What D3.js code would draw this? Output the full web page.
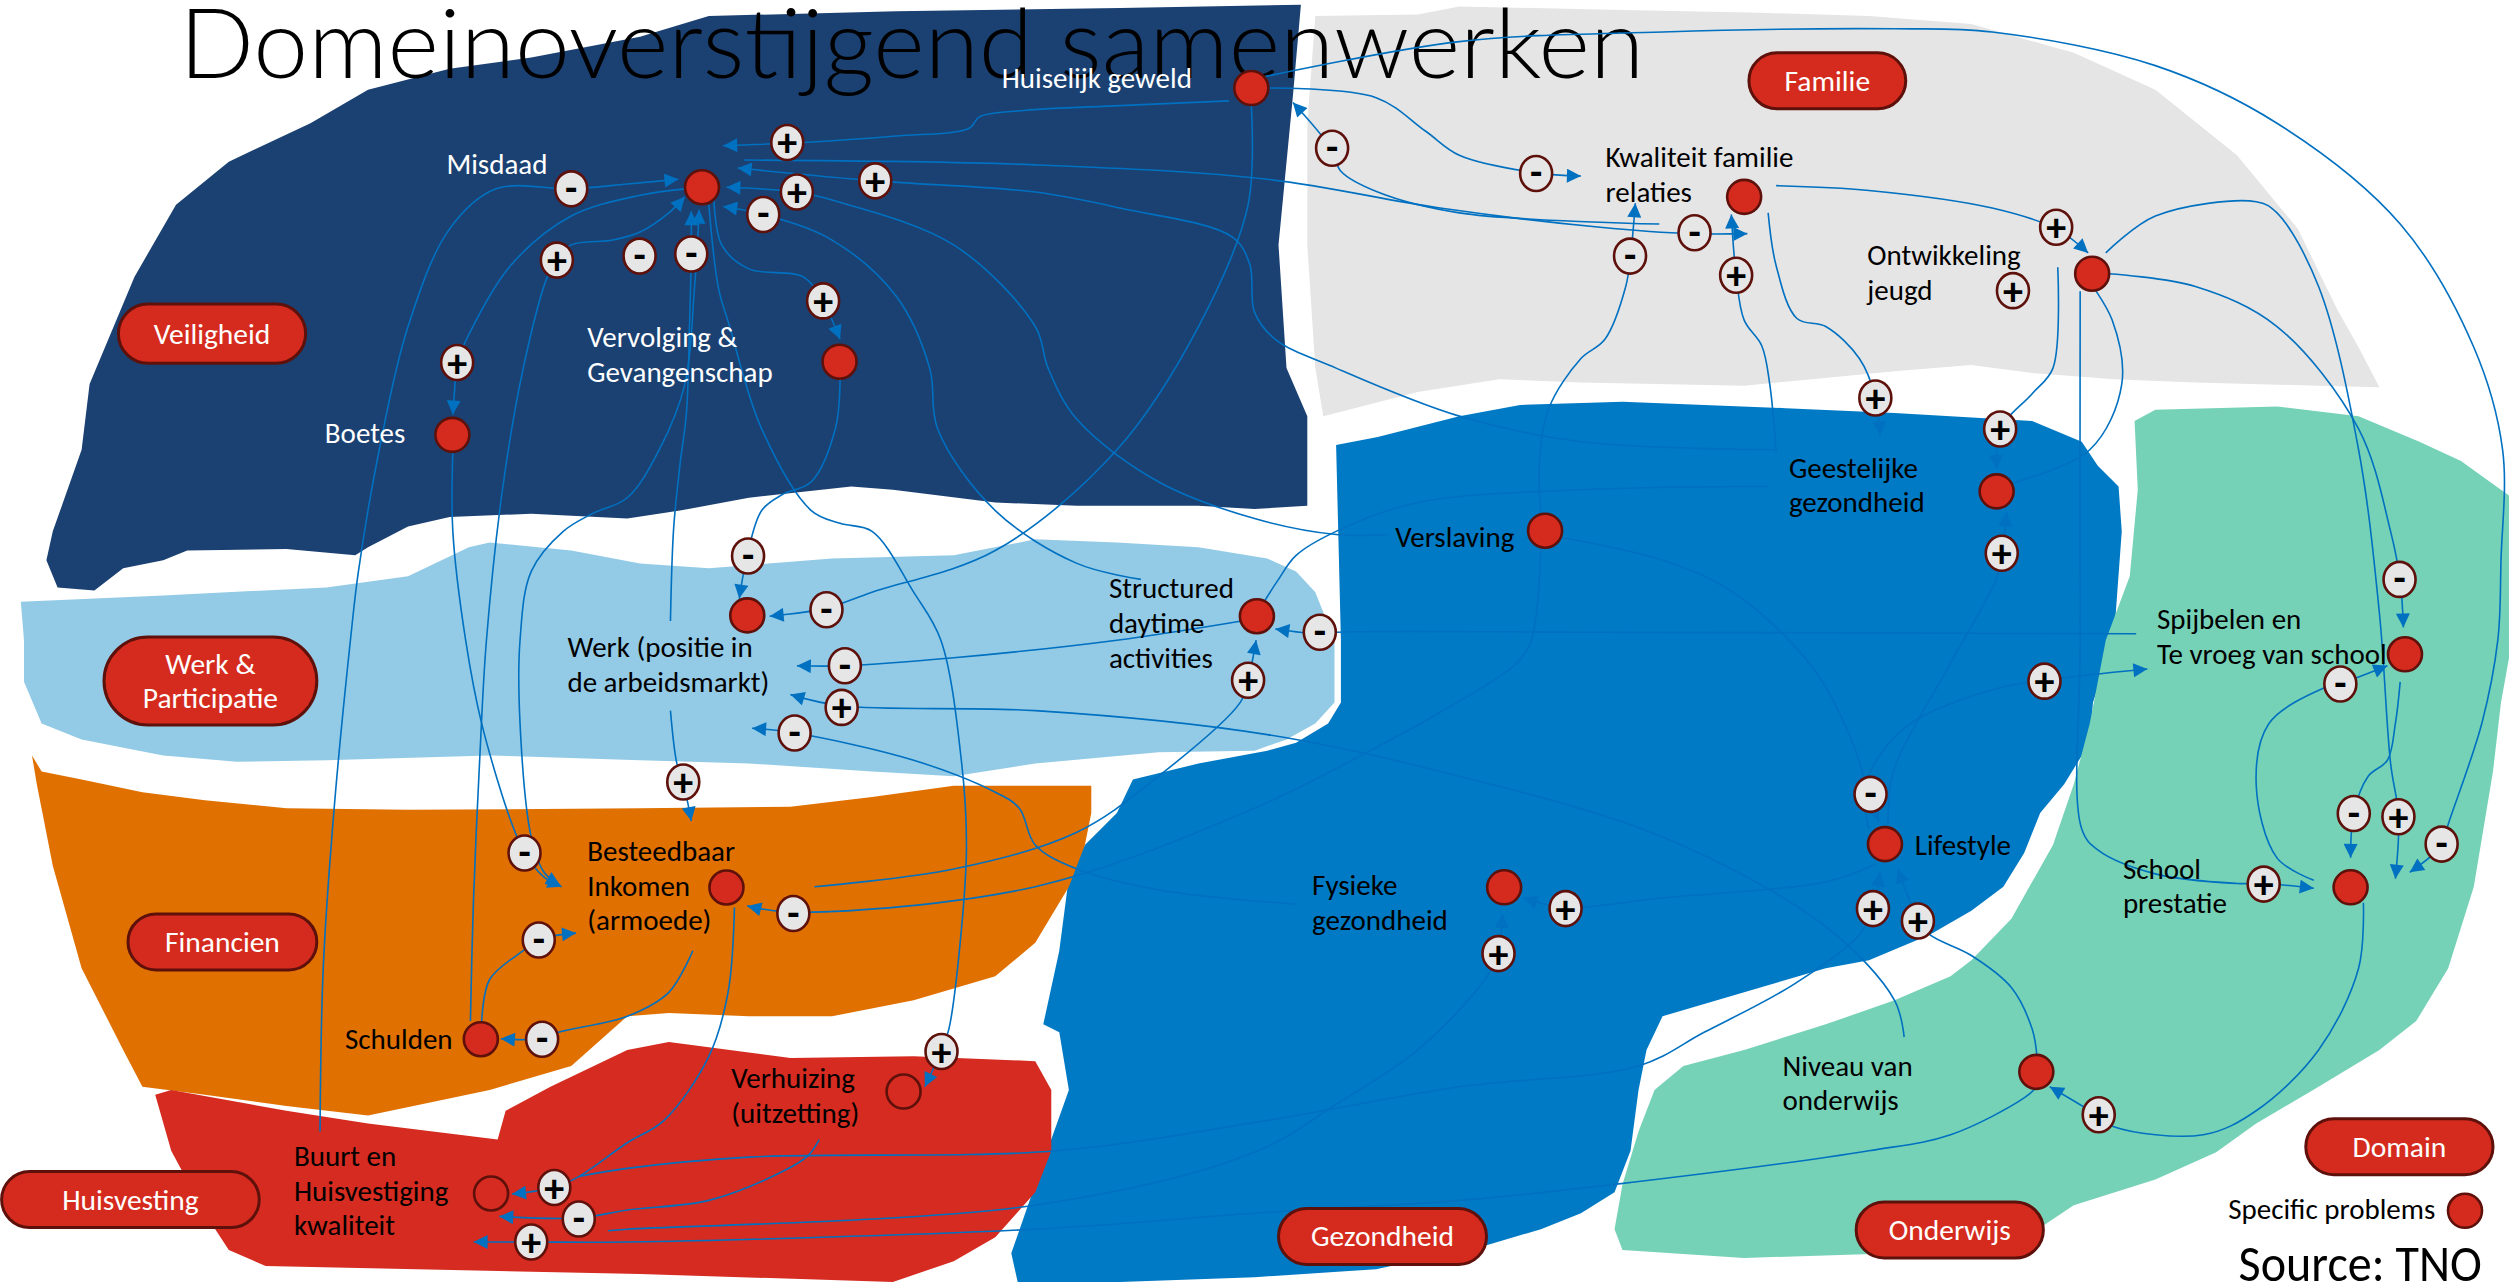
<!DOCTYPE html>
<html>
<head>
<meta charset="utf-8">
<script src="https://cdn.jsdelivr.net/npm/d3@7"></script>
<style>
  body { margin: 0; background: #fff; overflow: hidden; }
  text { font-family: Carlito, Lato, "Open Sans", sans-serif; }
  text.title { font-family: "Lato Light", "Open Sans Light", Lato, sans-serif; font-weight: 300; }
</style>
</head>
<body>
<script>
// Domeinoverstijgend samenwerken (source: TNO)
// all positions are in a 1568 x 801 layout grid

var title = "Domeinoverstijgend samenwerken";
var source = "Source: TNO";

// domain outlines (hand drawn blobs)
var veiligheidShape = [[143,101],[194,77],[230,56],[281,43],[332,36],[400,23],[443,10],[560,7],[700,5],[813,3],[808,60],[799,153],[804,230],[817,260],[817,316],[784,318],[749,316],[673,316],[622,314],[558,306],[532,304],[468,311],[425,319],[392,324],[332,321],[281,323],[255,329],[230,342],[222,347],[179,343],[117,344],[102,350],[77,355],[59,369],[36,367],[29,350],[33,332],[51,281],[56,240],[84,173],[110,128]];
var familieShape = [[822,10],[886,9],[912,4],[1000,6],[1100,8],[1168,10],[1232,15],[1296,33],[1347,56],[1398,97],[1436,143],[1461,194],[1474,217],[1487,242],[1449,241],[1372,239],[1321,237],[1270,233],[1232,228],[1184,232],[1090,241],[988,239],[937,237],[886,245],[835,258],[827,260],[822,230],[817,153],[817,77]];
var gezondheidShape = [[835,278],[861,273],[912,260],[950,253],[1014,251],[1116,255],[1184,258],[1270,263],[1301,276],[1311,291],[1324,304],[1326,332],[1321,400],[1308,439],[1306,464],[1290,490],[1275,508],[1265,533],[1252,554],[1232,569],[1206,584],[1168,600],[1141,605],[1090,620],[1039,635],[1029,656],[1024,681],[1019,719],[1009,745],[988,758],[963,768],[929,778],[860,793],[784,798],[700,801],[636,801],[632,783],[647,740],[668,681],[662,645],[652,640],[662,594],[668,548],[678,528],[698,508],[708,487],[749,477],[792,469],[810,464],[830,452],[838,439],[838,400]];
var werkShape = [[13,376],[102,372],[204,367],[255,360],[293,342],[306,339],[357,344],[400,352],[443,355],[520,349],[596,347],[647,337],[698,339],[749,342],[792,349],[810,357],[822,370],[834,400],[834,439],[822,452],[804,462],[784,469],[724,470],[647,477],[596,485],[545,482],[468,477],[400,475],[306,472],[204,475],[148,476],[102,472],[51,462],[26,452],[15,426],[15,400]];
var financienShape = [[20,472],[26,482],[51,487],[89,495],[128,500],[179,505],[255,506],[400,505],[494,504],[545,498],[596,491],[682,491],[682,508],[678,528],[668,554],[647,589],[622,610],[571,625],[520,635],[468,635],[418,633],[392,635],[357,666],[306,681],[230,697],[179,691],[128,684],[89,679],[77,656],[51,605],[33,541],[23,490]];
var huisvestingShape = [[97,684],[107,681],[179,694],[230,702],[311,712],[316,694],[344,679],[392,656],[418,651],[494,661],[571,660],[647,663],[657,681],[657,719],[647,745],[622,773],[596,788],[558,801],[400,796],[166,791],[143,781],[128,758],[107,719]];
var onderwijsShape = [[1334,263],[1347,256],[1423,254],[1474,260],[1512,276],[1538,288],[1556,301],[1570,311],[1570,400],[1563,439],[1558,482],[1546,554],[1530,605],[1510,638],[1487,656],[1449,679],[1410,702],[1385,720],[1347,737],[1296,753],[1278,765],[1184,783],[1090,786],[1014,781],[1009,768],[1014,740],[1024,707],[1034,681],[1052,666],[1090,656],[1141,640],[1184,625],[1219,610],[1232,600],[1257,574],[1283,528],[1296,490],[1306,452],[1316,400],[1331,360],[1336,306]];

// domain name tags: name, box [x0, y0, x1, y1]
var domainTags = [
  ["Veiligheid", [74, 190, 191, 227]],
  ["Werk &|Participatie", [65, 398, 198, 453]],
  ["Financien", [80, 571, 198, 606]],
  ["Huisvesting", [1, 732, 162, 767]],
  ["Familie", [1093, 33, 1191, 68]],
  ["Gezondheid", [799, 755, 929, 790]],
  ["Onderwijs", [1160, 751, 1277, 786]],
  ["Domain", [1441, 699, 1558, 734]]
];

// specific problems: name, position, open circle
var problems = [
  ["Huiselijk geweld", 782, 55, false],
  ["Misdaad", 438.7, 117, false],
  ["Vervolging & Gevangenschap", 524.7, 226, false],
  ["Boetes", 282.7, 271.7, false],
  ["Werk", 467, 384.5, false],
  ["Structured daytime activities", 785.5, 385, false],
  ["Besteedbaar Inkomen", 454, 554.5, false],
  ["Schulden", 300.5, 649.3, false],
  ["Verhuizing", 564.7, 682, true],
  ["Buurt en Huisvestiging kwaliteit", 306.9, 745.7, true],
  ["Kwaliteit familie relaties", 1090, 123, false],
  ["Ontwikkeling jeugd", 1307.5, 171, false],
  ["Geestelijke gezondheid", 1247.8, 307, false],
  ["Verslaving", 965.6, 331.6, false],
  ["Lifestyle", 1178, 527.4, false],
  ["Fysieke gezondheid", 940, 554.4, false],
  ["Spijbelen", 1503, 408.8, false],
  ["School prestatie", 1469, 554.4, false],
  ["Niveau van onderwijs", 1272.6, 669.7, false],
  ["legend", 1540.5, 756.5, false]
];

// labels: lines, start x, first baseline, light text on dark domain
var labels = [
  [["Huiselijk geweld"], 626, 55, true],
  [["Misdaad"], 279, 109, true],
  [["Vervolging &", "Gevangenschap"], 367, 217, true],
  [["Boetes"], 203, 277, true],
  [["Werk (positie in", "de arbeidsmarkt)"], 354.6, 410.8, false],
  [["Structured", "daytime", "activities"], 693, 373.7, false],
  [["Besteedbaar", "Inkomen", "(armoede)"], 367, 538, false],
  [["Schulden"], 215.6, 655.7, false],
  [["Verhuizing", "(uitzetting)"], 457, 680, false],
  [["Buurt en", "Huisvestiging", "kwaliteit"], 183.7, 728.4, false],
  [["Kwaliteit familie", "relaties"], 1003.4, 104.6, false],
  [["Ontwikkeling", "jeugd"], 1167, 165.8, false],
  [["Geestelijke", "gezondheid"], 1118, 298.5, false],
  [["Verslaving"], 872, 341.8, false],
  [["Lifestyle"], 1196.6, 534.5, false],
  [["Fysieke", "gezondheid"], 820, 559.3, false],
  [["Spijbelen en", "Te vroeg van school"], 1348, 392.9, false],
  [["School", "prestatie"], 1326.7, 549, false],
  [["Niveau van", "onderwijs"], 1114, 672, false],
  [["Specific problems"], 1392.5, 761.6, false]
];

// polarity markers
var signs = [
  ["+",492,89],["-",357,118],["+",547,113],["+",498,120],["-",477,134],["+",348,162.5],["-",399.7,160],["-",432,158.7],["+",514.4,188],["+",285.7,226.5],
  ["-",832.5,92.6],["-",960,108.4],["-",1018.7,160],["-",1059,145.4],["+",1085,172],["+",1285,142],["+",1258,181.6],["+",1172,248.7],["+",1250,268],["+",1251,345.7],
  ["-",467.5,347.4],["-",516.5,381],["-",528,416],["+",526,442],["-",496.6,458],["-",824.8,395],["+",780,425],
  ["+",427,488.6],["-",327.8,533],["-",495.8,570.8],["-",336.7,587.3],["-",338.8,649.3],
  ["+",588.4,657],["+",346.4,742],["-",361.7,761.6],["+",332,776],
  ["+",1277.7,425.6],["-",1169,496.3],["+",978.4,567.7],["+",936.5,595.8],["+",1170.5,567.7],["+",1198.6,575.4],
  ["-",1499.6,362],["-",1462.6,427.4],["-",1471,508.3],["+",1498.9,510.3],["-",1525.9,527.4],["+",1414.7,552.4],["+",1311.6,696.5]
];

// causal links: arrow head ("end", "both", "none"), route
var links = [
  ["end", [[768,63],[700,66],[640,69],[612,73],[606,80],[560,85],[502,89],[452,91]]],
  ["end", [[200,707],[202,605],[209,503],[219,400],[224,357],[237,281],[255,204],[281,143],[310,118],[357,118],[392,115],[424,112]]],
  ["end", [[294,638],[296,560],[300,470],[304,400],[314,306],[327,230],[342,173],[348,162],[357,153],[383,150],[400,145],[418,133],[428,123]]],
  ["end", [[428,118],[400,122],[357,135],[319,166],[293,209],[286,226],[284,245],[283,259]]],
  ["end", [[283,282],[283,332],[291,400],[301,452],[320,515],[328,533],[340,548],[351,554]]],
  ["both", [[437,131],[434,180],[428,240],[412,281],[392,311],[370,321],[352,332],[332,357],[325,400],[325,452],[332,523],[340,545],[350,553]]],
  ["end", [[419,388],[421,330],[425,290],[429,258],[431,200],[432,158],[432,132]]],
  ["end", [[868,334],[835,334],[784,324],[724,301],[673,262],[655,230],[647,204],[596,153],[520,125],[498,120],[454,117]]],
  ["end", [[713,362],[673,352],[622,319],[586,268],[581,230],[560,185],[520,150],[477,134],[452,129]]],
  ["end", [[1110,281],[988,276],[912,260],[835,230],[797,212],[784,195],[781,165],[770,148],[700,130],[647,120],[547,113],[461,105]]],
  ["end", [[465,100],[647,103],[792,112],[900,130],[1000,142],[1057,146],[1092,146]]],
  ["end", [[446,122],[451,153],[468,168],[502,173],[514,188],[525,212]]],
  ["end", [[525,237],[522,268],[507,301],[489,309],[476,319],[467,347],[462,374]]],
  ["end", [[782,66],[780,128],[749,204],[698,281],[622,344],[545,370],[516,380],[481,385]]],
  ["end", [[443,128],[449,180],[456,204],[476,268],[507,319],[525,327],[545,332],[571,370],[588,400],[601,477],[604,528],[601,579],[593,643],[588,657],[578,679]]],
  ["end", [[1037,140],[912,133],[861,120],[838,107],[832,93],[808,64]]],
  ["end", [[792,55],[860,61],[891,82],[912,97],[960,108],[988,110]]],
  ["end", [[963,321],[962,290],[968,255],[988,224],[1003,212],[1016,179],[1019,160],[1022,127]]],
  ["end", [[1110,283],[1106,240],[1101,216],[1090,200],[1085,172],[1082,134]]],
  ["end", [[1105,133],[1110,166],[1123,199],[1141,204],[1162,224],[1172,248],[1175,272]]],
  ["end", [[1110,116],[1168,119],[1245,130],[1285,143],[1305,158]]],
  ["end", [[1286,167],[1283,230],[1270,246],[1250,268],[1248,293]]],
  ["end", [[1250,304],[1306,281],[1326,240],[1320,200],[1303,172]]],
  ["end", [[1300,182],[1300,400],[1301,518],[1311,531],[1347,546],[1398,552],[1415,552],[1446,555]]],
  ["end", [[1316,158],[1347,135],[1410,126],[1423,133],[1449,179],[1474,281],[1487,383],[1494,477],[1499,510],[1497,549]]],
  ["end", [[1318,171],[1372,179],[1423,204],[1474,268],[1494,332],[1500,363],[1502,392]]],
  ["end", [[790,48],[912,26],[1039,20],[1184,18],[1245,20],[1347,41],[1423,77],[1500,140],[1546,217],[1564,281],[1563,350],[1561,400],[1551,452],[1530,515],[1526,528],[1506,545]]],
  ["end", [[1500,426],[1497,452],[1492,475],[1480,485],[1471,508],[1469,536]]],
  ["end", [[1446,550],[1423,536],[1410,490],[1418,452],[1452,430],[1463,427],[1492,416]]],
  ["end", [[1477,564],[1474,605],[1449,656],[1410,694],[1377,709],[1321,704],[1311,697],[1281,679]]],
  ["end", [[776,388],[698,400],[596,411],[528,416],[498,416]]],
  ["end", [[1190,648],[1184,625],[1141,579],[1039,523],[912,485],[792,459],[647,444],[526,441],[494,434]]],
  ["end", [[810,565],[724,556],[673,543],[647,528],[637,505],[622,495],[571,475],[497,458],[470,455]]],
  ["end", [[419,444],[423,477],[427,489],[432,513]]],
  ["end", [[1335,396],[1000,395],[835,395],[824,396],[797,393]]],
  ["end", [[509,554],[596,543],[673,520],[724,485],[775,439],[780,425],[785,400]]],
  ["none", [[1105,304],[988,306],[886,314],[835,332],[810,347],[799,362],[790,376]]],
  ["end", [[963,343],[957,400],[947,415],[900,445],[860,467],[784,505],[647,554],[496,570],[467,566]]],
  ["end", [[433,594],[418,620],[392,635],[349,645],[339,649],[313,649]]],
  ["end", [[301,639],[306,612],[327,594],[337,587],[360,583]]],
  ["end", [[459,567],[455,620],[443,660],[415,700],[392,714],[362,735],[346,742],[320,746]]],
  ["end", [[512,712],[505,722],[489,732],[443,750],[392,756],[362,761],[312,760]]],
  ["end", [[1273,679],[1265,686],[1219,709],[1168,719],[1009,740],[912,750],[784,758],[647,768],[392,776],[332,776],[296,776]]],
  ["end", [[362,735],[392,730],[468,723],[660,719],[792,700],[912,679],[1024,666],[1065,645],[1121,615],[1162,584],[1170,568],[1175,545]]],
  ["end", [[380,769],[392,768],[647,753],[784,720],[835,690],[886,656],[928,612],[936,596],[939,571]]],
  ["end", [[977,336],[1039,350],[1083,370],[1132,416],[1157,462],[1168,496],[1174,513]]],
  ["end", [[1172,540],[1141,551],[1039,561],[978,567],[952,561]]],
  ["end", [[1273,660],[1270,643],[1257,617],[1232,597],[1206,584],[1199,575],[1186,543]]],
  ["end", [[1168,518],[1166,490],[1190,455],[1245,431],[1278,425],[1342,418]]],
  ["end", [[1180,515],[1183,483],[1218,416],[1247,363],[1251,347],[1254,320]]]
];

var W = 2509, H = 1282;
var x = d3.scaleLinear().domain([0, 1568]).range([0, W]);
var y = d3.scaleLinear().domain([0, 801]).range([0, H]);

var red = "#d52b1e", darkRed = "#5e100b", linkBlue = "#0070c0";

var svg = d3.select("body").append("svg")
            .attr("width", W)
            .attr("height", H);

var defs = svg.append("defs");
defs.append("marker")
    .attr("id", "arrow")
    .attr("viewBox", "0 0 10 10")
    .attr("refX", 10)
    .attr("refY", 5)
    .attr("markerUnits", "userSpaceOnUse")
    .attr("markerWidth", 16)
    .attr("markerHeight", 14)
    .attr("orient", "auto-start-reverse")
  .append("path")
    .attr("d", "M0,0L10,5L0,10z")
    .attr("fill", linkBlue);

// domains
var blob = d3.line()
             .x(function(d) { return x(d[0]); })
             .y(function(d) { return y(d[1]); })
             .curve(d3.curveLinearClosed);

var domains = [
  [veiligheidShape, "#1b4172"],
  [familieShape, "#e5e5e5"],
  [gezondheidShape, "#017ac5"],
  [werkShape, "#93cbe7"],
  [financienShape, "#e07000"],
  [huisvestingShape, "#d52b20"],
  [onderwijsShape, "#76d2b7"]
];

svg.append("g").selectAll("path")
   .data(domains)
   .enter().append("path")
     .attr("d", function(d) { return blob(d[0]); })
     .style("fill", function(d) { return d[1]; });

// title
svg.append("text")
   .attr("class", "title")
   .attr("x", x(112))
   .attr("y", y(48.5))
   .attr("textLength", x(1027.5) - x(112))
   .attr("lengthAdjust", "spacingAndGlyphs")
   .style("font-size", "97px")
   .style("fill", "#000")
   .text(title);

// links
var route = d3.line()
              .x(function(d) { return x(d[0]); })
              .y(function(d) { return y(d[1]); })
              .curve(d3.curveCatmullRom.alpha(0.5));

svg.append("g").selectAll("path")
   .data(links)
   .enter().append("path")
     .attr("d", function(d) { return route(d[1]); })
     .style("fill", "none")
     .style("stroke", linkBlue)
     .style("stroke-width", 1.6)
     .attr("marker-end", function(d) { return d[0] == "none" ? null : "url(#arrow)"; })
     .attr("marker-start", function(d) { return d[0] == "both" ? "url(#arrow)" : null; });

// labels
var lineGap = 34.7;
var lab = svg.append("g").selectAll("text")
   .data(labels)
   .enter().append("text")
     .attr("x", function(d) { return x(d[1]); })
     .attr("y", function(d) { return y(d[2]); })
     .style("font-size", "29px")
     .style("fill", function(d) { return d[3] ? "#fff" : "#000"; });

lab.selectAll("tspan")
   .data(function(d) { return d[0].map(function(t) { return [t, d[1]]; }); })
   .enter().append("tspan")
     .attr("x", function(d) { return x(d[1]); })
     .attr("dy", function(d, i) { return i == 0 ? 0 : lineGap; })
     .text(function(d) { return d[0]; });

// problems
svg.append("g").selectAll("circle")
   .data(problems)
   .enter().append("circle")
     .attr("cx", function(d) { return x(d[1]); })
     .attr("cy", function(d) { return y(d[2]); })
     .attr("r", 17)
     .style("fill", function(d) { return d[3] ? "#d52b20" : red; })
     .style("stroke", darkRed)
     .style("stroke-width", 2.6);

// signs
var sg = svg.append("g").selectAll("g")
   .data(signs)
   .enter().append("g")
     .attr("transform", function(d) { return "translate(" + x(d[1]) + "," + y(d[2]) + ")"; });

sg.append("ellipse")
  .attr("rx", 16)
  .attr("ry", 17.5)
  .style("fill", "#e6e6e6")
  .style("stroke", darkRed)
  .style("stroke-width", 2.6);

sg.append("text")
  .attr("text-anchor", "middle")
  .attr("y", function(d) { return d[0] == "+" ? 14 : 12; })
  .style("font-size", "40px")
  .style("font-weight", "bold")
  .style("fill", "#000")
  .text(function(d) { return d[0]; });

// domain tags
var tag = svg.append("g").selectAll("g")
   .data(domainTags)
   .enter().append("g");

tag.append("rect")
   .attr("x", function(d) { return x(d[1][0]); })
   .attr("y", function(d) { return y(d[1][1]); })
   .attr("width", function(d) { return x(d[1][2]) - x(d[1][0]); })
   .attr("height", function(d) { return y(d[1][3]) - y(d[1][1]); })
   .attr("rx", function(d) { return (y(d[1][3]) - y(d[1][1])) / 2; })
   .style("fill", red)
   .style("stroke", darkRed)
   .style("stroke-width", 3);

tag.each(function(d) {
  var parts = d[0].split("|");
  var cx = x((d[1][0] + d[1][2]) / 2);
  var cy = y((d[1][1] + d[1][3]) / 2);
  var t = d3.select(this).append("text")
            .attr("text-anchor", "middle")
            .style("font-size", "29.5px")
            .style("fill", "#fff");
  parts.forEach(function(p, i) {
    t.append("tspan")
     .attr("x", cx)
     .attr("y", cy + 10 + (i - (parts.length - 1) / 2) * lineGap)
     .text(p);
  });
});

// source
svg.append("text")
   .attr("x", x(1399))
   .attr("y", H - 1)
   .attr("textLength", x(1551) - x(1399))
   .attr("lengthAdjust", "spacingAndGlyphs")
   .style("font-size", "52px")
   .style("fill", "#000")
   .text(source);
</script>
</body>
</html>
